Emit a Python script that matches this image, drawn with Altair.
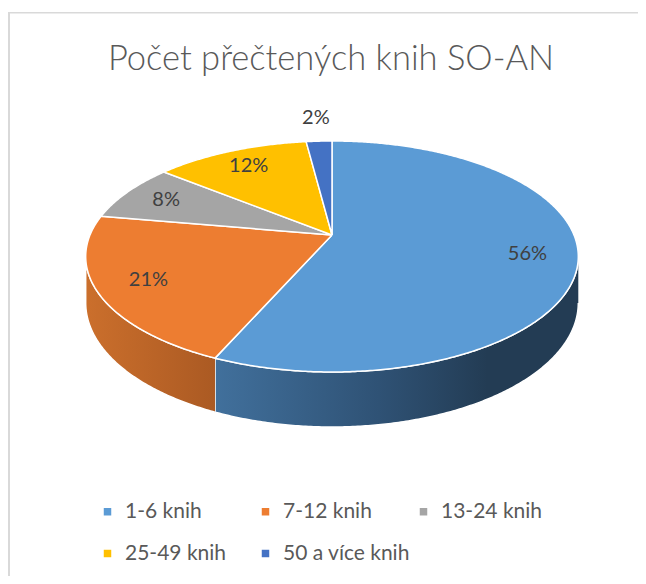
import numpy as np
import pandas as pd
import altair as alt

# ---- data ----
categories = ["1-6 knih", "7-12 knih", "13-24 knih", "25-49 knih", "50 a více knih"]
shares = [56, 21, 8, 12, 2]
pct_labels = ["56%", "21%", "8%", "12%", "2%"]
colors = ["#5b9bd5", "#ed7d31", "#a5a5a5", "#ffc000", "#4472c4"]
title_text = "Počet přečtených knih SO-AN"

# ---- 3D pie projection (page-pixel space) ----
CX, CY = 332.0, 235.0
R, RY, K, DEPTH = 242.0, 111.5, 0.186, 44.8
FONT = "Lato"


def proj(theta_deg, depth=0.0, r=1.0):
    t = np.radians(theta_deg)
    u, v = r * np.sin(t), r * np.cos(t)
    s = 1.0 / (1.0 + K * v)
    return CX + R * u * s, CY - RY * v * s + DEPTH * s * depth


total = float(sum(shares))
starts, ends = [], []
acc = 0.0
for v in shares:
    starts.append(acc / total * 360.0)
    acc += v
    ends.append(acc / total * 360.0)

# top faces
top_rows = []
for k, cat in enumerate(categories):
    a0, a1 = starts[k], ends[k]
    n = max(int((a1 - a0) / 0.5), 2)
    pts = [(CX, CY)] + [proj(a) for a in np.linspace(a0, a1, n + 1)] + [(CX, CY)]
    for i, (x, y) in enumerate(pts):
        top_rows.append({"cat": cat, "i": i, "x": x, "y": y})
df_top = pd.DataFrame(top_rows)

# side walls (front-facing arc only)
lo = 90 + np.degrees(np.arcsin(K))
hi = 270 - np.degrees(np.arcsin(K))
walls = {}
for k, cat in enumerate(categories):
    b0, b1 = max(starts[k], lo), min(ends[k], hi)
    if b1 <= b0:
        continue
    n = max(int((b1 - b0) / 0.5), 2)
    angs = np.linspace(b0, b1, n + 1)
    pts = [proj(a, 0) for a in angs] + [proj(a, 1) for a in angs[::-1]]
    walls[k] = pd.DataFrame({"i": range(len(pts)), "x": [p[0] for p in pts], "y": [p[1] for p in pts]})

wall_grad = {
    0: [("#41709c", 0.0), ("#2f5275", 0.45), ("#233c54", 0.75), ("#233c54", 1.0)],
    1: [("#cb6f2c", 0.0), ("#ab5a23", 1.0)],
}

# labels
lab_rows = []
for k, cat in enumerate(categories):
    mid = (starts[k] + ends[k]) / 2
    f = 1.3 if shares[k] / total < 0.05 else 0.8
    x, y = proj(mid, 0, f)
    lab_rows.append({"cat": cat, "label": pct_labels[k], "x": x, "y": y})
df_lab = pd.DataFrame(lab_rows)

# ---- chart ----
PAD_TOP = 92
W, H = 630, 476
xenc = alt.X("x:Q", scale=alt.Scale(domain=[8, 8 + W], nice=False, zero=False), axis=None)
yenc = alt.Y("y:Q", scale=alt.Scale(domain=[8 + PAD_TOP + H, 8 + PAD_TOP], nice=False, zero=False), axis=None)

layers = []
for k, dfw in walls.items():
    grad = alt.LinearGradient(
        gradient="linear",
        stops=[alt.GradientStop(color=c, offset=o) for c, o in wall_grad.get(k, [(colors[k], 0), (colors[k], 1)])],
        x1=0, x2=1, y1=0, y2=0,
    )
    layers.append(
        alt.Chart(dfw).mark_line(filled=True, fill=grad, stroke="white", strokeWidth=1.5, strokeJoin="round")
        .encode(x=xenc, y=yenc, order="i:Q")
    )

top = alt.Chart(df_top).mark_line(filled=True, stroke="white", strokeWidth=1.5, strokeJoin="round").encode(
    x=xenc, y=yenc, order="i:Q",
    color=alt.Color(
        "cat:N",
        scale=alt.Scale(domain=categories, range=colors),
        sort=categories,
        legend=alt.Legend(
            orient="none", legendX=89, legendY=401, columns=3, gridAlign="all",
            direction="horizontal",
            symbolType="square", symbolSize=56, symbolStrokeWidth=0,
            labelFont=FONT, labelFontSize=21, labelColor="#595959", labelOffset=7,
            columnPadding=3, rowPadding=20, title=None, padding=0,
        ),
    ),
)
layers.append(top)

labels = alt.Chart(df_lab).mark_text(font=FONT, fontSize=20, color="#404040").encode(
    x=xenc, y=yenc, text="label:N"
)
layers.append(labels)

one = pd.DataFrame({"a": [0]})
border_left = alt.Chart(one).mark_rule(color="#d9d9d9", strokeWidth=2).encode(
    x=alt.value(1), y=alt.value(-PAD_TOP + 4.5), y2=alt.value(H)
)
border_top = alt.Chart(one).mark_rule(color="#d9d9d9", strokeWidth=1.5).encode(
    x=alt.value(0), x2=alt.value(W), y=alt.value(-PAD_TOP + 4.7)
)
layers += [border_left, border_top]

chart = alt.layer(*layers).properties(
    width=W, height=H,
    autosize=alt.AutoSizeParams(type="none"),
    padding={"left": 0, "top": PAD_TOP, "right": 0, "bottom": 0},
    title=alt.TitleParams(
        title_text, font=FONT, fontSize=34.5, fontWeight=300, color="#595959",
        anchor="middle", offset=-93, dx=8, frame="group", baseline="alphabetic",
    ),
).configure(background="white").configure_view(stroke=None)

chart.save("out.html", embed_options={"renderer": "svg", "actions": False})
